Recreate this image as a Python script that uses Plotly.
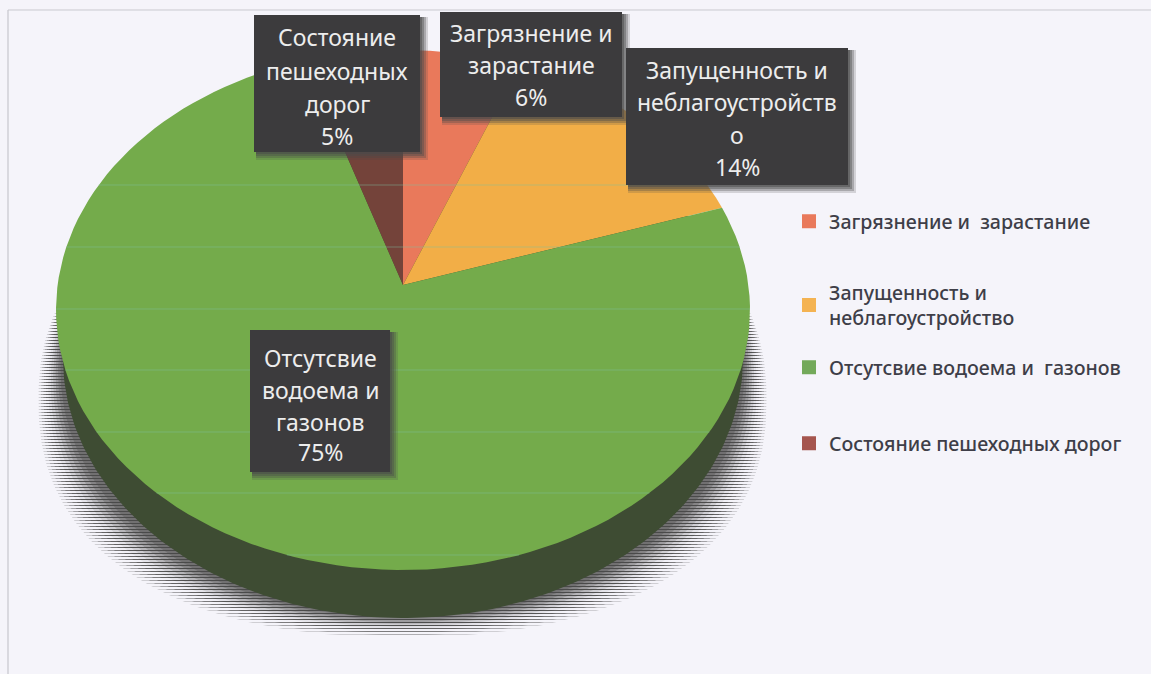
import numpy as np
import plotly.graph_objects as go

# Data
categories = ["Загрязнение и зарастание", "Запущенность и неблагоустройство",
              "Отсутсвие водоема и газонов", "Состояние пешеходных дорог"]
values = [6, 14, 75, 5]
legend_texts = ["Загрязнение и  зарастание", "Запущенность и<br>неблагоустройство",
                "Отсутсвие водоема и  газонов", "Состояние пешеходных дорог"]
label_lines = [["Загрязнение и", "зарастание"],
               ["Запущенность и", "неблагоустройств", "о"],
               ["Отсутсвие", "водоема и", "газонов"],
               ["Состояние", "пешеходных", "дорог"]]

slice_colors = ["#E9795B", "#F2AE47", "#74AB4B", "#74433A"]
legend_colors = ["#E9795B", "#F4B352", "#73A95A", "#A5554E"]

W, H = 1151, 674
BG = "#F5F4FA"
AX, AY = 403, 285                 # apex of the tilted pie
P, A, B = 0.0962, 345.4, 257.6    # perspective of the tilted disc

def rim(frac):
    t = 2 * np.pi * np.asarray(frac)
    u, v = np.sin(t), np.cos(t)
    d = 1 + P * v
    return AX + A * u / d, AY - B * v / d

def ellipse(cx, cy, rx, ry, n=2.0, count=360):
    t = np.linspace(0, 2 * np.pi, count)
    c, s = np.cos(t), np.sin(t)
    return (cx + rx * np.sign(c) * np.abs(c) ** (2 / n),
            cy + ry * np.sign(s) * np.abs(s) ** (2 / n))

fig = go.Figure()

# soft striped ground shadow: from the light outer fringe to the dark inner edge
N = 10
for i in range(N):
    f = i / (N - 1)
    x, y = ellipse(402.5, 400 - 30 * f, 364 - 22 * f, 237 + 11 * f, 2.3 - 0.25 * f)
    fig.add_trace(go.Scatter(x=x, y=y, mode="lines", fill="toself", line=dict(width=0),
                             fillpattern=dict(shape="-", size=3, solidity=0.15 + 0.65 * f,
                                              fgcolor="#4A4A4A", bgcolor="rgba(0,0,0,0)"),
                             fillcolor="rgba(0,0,0,0)",
                             hoverinfo="skip", showlegend=False))

# side wall of the pie
x, y = ellipse(403, 358, 340, 260)
fig.add_trace(go.Scatter(x=x, y=y, mode="lines", fill="toself", line=dict(width=0),
                         fillcolor="#3E4C33", hoverinfo="skip", showlegend=False))

# slices, clockwise from 12 o'clock
total = sum(values)
edges = np.cumsum([0] + values) / total
for i, cat in enumerate(categories):
    fr = np.linspace(edges[i], edges[i + 1], 120)
    rx, ry = rim(fr)
    fig.add_trace(go.Scatter(x=np.r_[AX, rx, AX], y=np.r_[AY, ry, AY], mode="lines",
                             fill="toself", line=dict(width=0), fillcolor=slice_colors[i],
                             name=cat, hovertemplate=f"{cat}: {values[i]}%<extra></extra>",
                             showlegend=False))

# legend entries (each in its own legend box to keep the uneven spacing)
legend_tops = [202, 273, 348, 424]
legend_left = 789
legend_font = dict(family="Noto Sans", size=19.6, color="#3E3E48", weight=500)
layout_legends = {}
for i, cat in enumerate(categories):
    key = "legend" if i == 0 else f"legend{i + 1}"
    fig.add_trace(go.Scatter(x=[None], y=[None], mode="markers", name=legend_texts[i],
                             legend=key,
                             marker=dict(symbol="square", size=14, color=legend_colors[i])))
    layout_legends[key] = dict(x=legend_left / W, y=1 - legend_tops[i] / H, xanchor="left",
                               yanchor="top", bgcolor="rgba(0,0,0,0)", borderwidth=0,
                               font=legend_font, itemwidth=30, itemclick=False,
                               itemdoubleclick=False)

# data-label boxes
boxes = [(440, 12, 622, 117), (626, 48, 848, 185), (250, 330, 390, 472), (254, 15, 420, 152)]
line_ys = [[33, 65, 97], [70, 102, 135, 167], [358, 390, 422, 452], [37, 71, 104, 136]]
shapes = []
# faint scanner bands crossing the pie
for yy in [185, 247, 309, 370, 432, 493, 555]:
    half = 347 * np.sqrt(max(0, 1 - ((yy - 310) / 260) ** 2))
    shapes.append(dict(type="line", xref="x", yref="y", x0=403 - half, x1=403 + half, y0=yy, y1=yy,
                       line=dict(color="#7FC2A0", width=1), opacity=0.45, layer="above"))
annotations = []
for i, (x0, y0, x1, y1) in enumerate(boxes):
    for off, op in [(8, 0.2), (6, 0.3), (4, 0.4), (2, 0.5)]:
        shapes.append(dict(type="rect", xref="x", yref="y", x0=x0 + 2, y0=y0 + 2, x1=x1 + off, y1=y1 + off,
                           fillcolor="#4A4A4A", opacity=op, line=dict(width=0), layer="above"))
    shapes.append(dict(type="rect", xref="x", yref="y", x0=x0, y0=y0, x1=x1, y1=y1,
                       fillcolor="#3C3B3D", line=dict(width=0), layer="above"))
    lines = label_lines[i] + [f"{values[i]}%"]
    for t, yy in zip(lines, line_ys[i]):
        annotations.append(dict(x=(x0 + x1) / 2, y=yy, xref="x", yref="y", text=t, showarrow=False,
                                xanchor="center", yanchor="middle",
                                font=dict(family="Noto Sans", size=23, color="#EDEDED")))

# thin frame left by the scan
shapes.append(dict(type="line", xref="x", yref="y", x0=8, x1=8, y0=10, y1=H,
                   line=dict(color="#BDBDC4", width=1), layer="below"))
shapes.append(dict(type="line", xref="x", yref="y", x0=8, x1=W, y0=10, y1=10,
                   line=dict(color="#C9C9CF", width=1), layer="below"))

fig.update_layout(width=W, height=H, margin=dict(l=0, r=0, t=0, b=0),
                  paper_bgcolor=BG, plot_bgcolor=BG, showlegend=True,
                  xaxis=dict(range=[0, W], visible=False, fixedrange=True),
                  yaxis=dict(range=[H, 0], visible=False, fixedrange=True),
                  shapes=shapes, annotations=annotations, **layout_legends)

fig.write_html("out.html", config=dict(displayModeBar=False),
               post_script=f"document.body.style.margin='0';document.body.style.background='{BG}';")
